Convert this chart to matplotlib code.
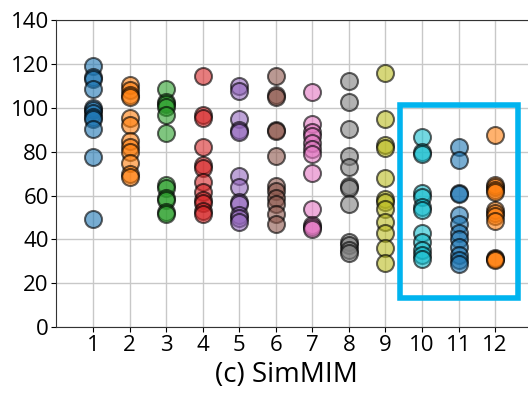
import matplotlib
matplotlib.use("Agg")
import matplotlib.pyplot as plt
from matplotlib.patches import Rectangle

plt.rcParams['font.family'] = ['Open Sans', 'DejaVu Sans']

layers = [1, 2, 3, 4, 5, 6, 7, 8, 9, 10, 11, 12]
distances = [
    [119, 114, 113, 108.5, 100, 99, 97.5, 96, 95, 90.5, 77.5, 49.5],
    [110.5, 108, 106, 105, 95.5, 92, 85, 82, 80, 75, 70, 68.5],
    [108.5, 102.5, 101.5, 100.5, 96.5, 88.5, 65, 63.5, 59, 58, 52.5, 51.5],
    [114.5, 96.5, 95.5, 82, 74, 72.5, 66, 61.5, 58, 56.5, 53, 51.5],
    [110, 107.5, 95, 90, 89, 69, 64, 57, 56, 51, 50, 48],
    [114.5, 106, 105, 90, 89.5, 78, 64.5, 62, 59, 56, 51.5, 47],
    [107, 92.5, 89, 87, 84, 81, 79, 70.5, 54, 46.5, 45.5, 45],
    [112, 102.5, 90.5, 78, 73, 64.5, 63.5, 56, 39, 37.5, 35, 34],
    [116, 95, 83, 81.5, 68, 58.5, 57, 54, 48, 43, 36, 29.5],
    [86.5, 80, 79, 61, 59.5, 55, 53.5, 43, 39, 35, 33, 31],
    [82, 76, 61, 60.5, 51, 47, 43, 40, 36.5, 33, 30.5, 29],
    [87.5, 65, 64, 62.5, 61.5, 53.5, 52, 50.5, 48.5, 31.5, 31, 30.5],
]
xlabel = "(c) SimMIM"
yticks = [0, 20, 40, 60, 80, 100, 120, 140]

fig = plt.figure(figsize=(5.28, 3.93), dpi=100)
ax = fig.add_axes([0.1070, 0.1672, 0.900, 0.782])

colors = plt.rcParams['axes.prop_cycle'].by_key()['color']
for i, (layer, vals) in enumerate(zip(layers, distances)):
    ax.scatter([layer] * len(vals), vals, s=150, color=colors[i % len(colors)],
               edgecolors='black', linewidths=1.5, alpha=0.6, zorder=3)

ax.add_patch(Rectangle((9.4, 13.5), 3.22, 87.6, fill=False, edgecolor='#00B4EF',
                       linewidth=4, zorder=4, clip_on=False))

ax.set_xlim(0, 13)
ax.set_ylim(0, 140)
ax.set_xticks(layers)
ax.set_yticks(yticks)
ax.tick_params(labelsize=16, pad=2)
ax.grid(True, color='#c8c8c8', linewidth=1, zorder=0)
ax.set_axisbelow(True)
ax.set_xlabel(xlabel, fontsize=20, labelpad=4)
ax.xaxis.label.set_x(0.483)
for sp in ax.spines.values():
    sp.set_color('#333333')

fig.savefig("out.png", dpi=100)
